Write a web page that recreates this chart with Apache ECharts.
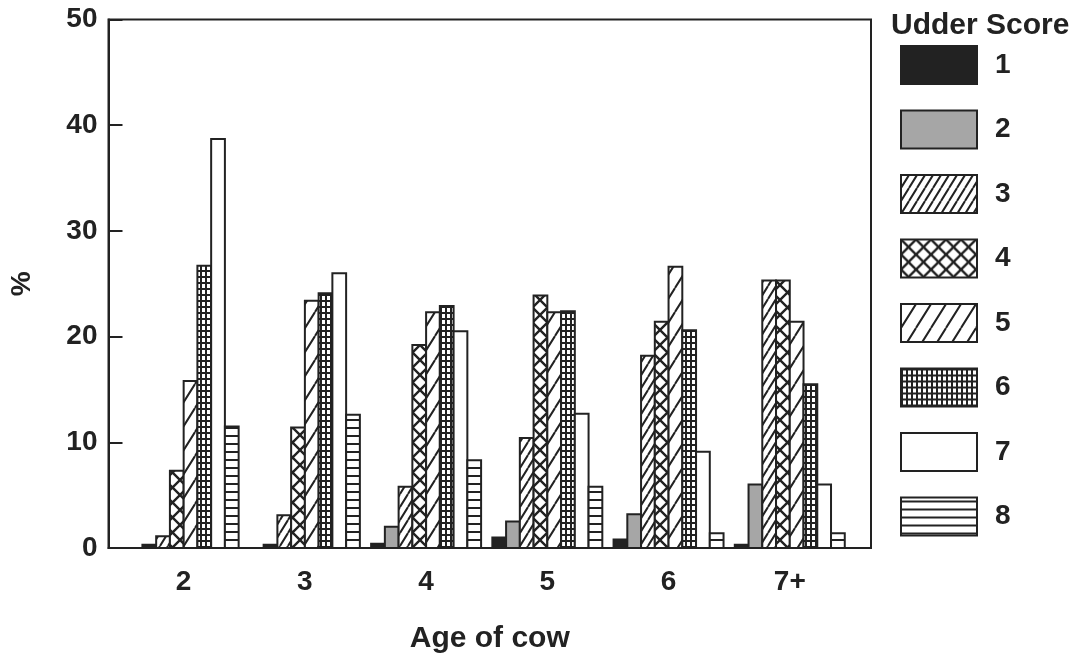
<!DOCTYPE html>
<html>
<head>
<meta charset="utf-8">
<script src="https://cdn.jsdelivr.net/npm/echarts@6/dist/echarts.min.js"></script>
<style>
  html, body { margin: 0; padding: 0; background: #fff; }
  #chart { width: 1071px; height: 659px; }
</style>
</head>
<body>
<div id="chart"></div>
<script>
// age groups and % of cows per udder score
const ages = ['2', '3', '4', '5', '6', '7+']
const scoreNames = ['1', '2', '3', '4', '5', '6', '7', '8']
const score1 = [0.3, 0.3, 0.4, 1.0, 0.8, 0.3]
const score2 = [null, null, 2.0, 2.5, 3.2, 6.0]
const score3 = [1.1, 3.1, 5.8, 10.4, 18.2, 25.3]
const score4 = [7.3, 11.4, 19.2, 23.9, 21.4, 25.3]
const score5 = [15.8, 23.4, 22.3, 22.3, 26.6, 21.4]
const score6 = [26.7, 24.1, 22.9, 22.4, 20.6, 15.5]
const score7 = [38.7, 26.0, 20.5, 12.7, 9.1, 6.0]
const score8 = [11.5, 12.6, 8.3, 5.8, 1.4, 1.4]
const yTicks = [0, 10, 20, 30, 40, 50]

const scores = [score1, score2, score3, score4, score5, score6, score7, score8]
const ink = '#222'
const font = 'Liberation Sans, Arial, sans-serif'
const barUnit = 0.1134

// 填充图案
const makePattern = (w, h, draw) => {
  const c = document.createElement('canvas')
  c.width = w
  c.height = h
  const ctx = c.getContext('2d')
  ctx.fillStyle = '#fff'
  ctx.fillRect(0, 0, w, h)
  ctx.strokeStyle = ink
  ctx.fillStyle = ink
  draw(ctx, w, h)
  return { image: c, repeat: 'repeat' }
}

const slash = (ctx, w, h) => {
  ctx.beginPath()
  for (let dx = -w; dx <= w; dx += w) {
    ctx.moveTo(dx, h)
    ctx.lineTo(dx + w, 0)
  }
  ctx.stroke()
}
const backslash = (ctx, w, h) => {
  ctx.beginPath()
  for (let dx = -w; dx <= w; dx += w) {
    ctx.moveTo(dx, 0)
    ctx.lineTo(dx + w, h)
  }
  ctx.stroke()
}

const fills = [
  ink,
  '#a6a6a6',
  makePattern(8, 13, (ctx, w, h) => { ctx.lineWidth = 2; slash(ctx, w, h) }),
  makePattern(15, 15, (ctx, w, h) => { ctx.lineWidth = 2.4; slash(ctx, w, h); backslash(ctx, w, h) }),
  makePattern(15, 24, (ctx, w, h) => { ctx.lineWidth = 2; slash(ctx, w, h) }),
  makePattern(5, 6, (ctx, w, h) => {
    ctx.fillRect(0, 0, w, h)
    ctx.fillStyle = '#fff'
    ctx.fillRect(2, 2, 3, 4)
  }),
  '#fff',
  makePattern(4, 8, (ctx, w, h) => { ctx.fillRect(0, 3, w, 2) }),
]

// 缺失的分数不占位置，柱子靠右排
const countAfter = (s, c) => {
  let n = 0
  for (let k = s + 1; k < scores.length; k++) {
    if (scores[k][c] != null) n++
  }
  return n
}

const renderBar = (s) => function (params, api) {
  const c = api.value(0)
  const v = api.value(1)
  const slot = 7 - countAfter(s, c - 1)
  const w = api.size([barUnit, 0])[0]
  const base = api.coord([c, 0])
  const top = api.coord([c, v])
  return {
    type: 'rect',
    shape: { x: base[0] - 4 * w + slot * w, y: top[1], width: w, height: base[1] - top[1] },
    style: { fill: fills[s], stroke: ink, lineWidth: 2 },
  }
}

const series = scores.map((arr, s) => {
  const data = []
  arr.forEach((v, i) => {
    if (v != null) data.push([i + 1, v])
  })
  return {
    name: scoreNames[s],
    type: 'custom',
    renderItem: renderBar(s),
    encode: { x: 0, y: 1 },
    itemStyle: { color: fills[s], borderColor: ink, borderWidth: 2 },
    data,
  }
})

const chart = echarts.init(document.getElementById('chart'))
chart.setOption({
  animation: false,
  backgroundColor: '#fff',
  title: {
    text: 'Udder Score',
    left: 886,
    top: 6,
    textStyle: { fontFamily: font, fontSize: 30, fontWeight: 'bold', color: ink },
  },
  legend: {
    orient: 'vertical',
    left: 900,
    top: 45,
    padding: 0,
    itemWidth: 76,
    itemHeight: 38,
    itemGap: 24.5,
    icon: 'rect',
    selectedMode: false,
    itemStyle: { borderColor: ink, borderWidth: 2 },
    textStyle: { fontFamily: font, fontSize: 28, fontWeight: 'bold', color: ink, padding: [0, 0, 0, 13] },
    data: scoreNames,
  },
  grid: {
    left: 108.5,
    right: 200,
    top: 19.5,
    bottom: 107,
    show: true,
    borderColor: ink,
    borderWidth: 2,
  },
  xAxis: {
    type: 'value',
    min: 0.38,
    max: 6.67,
    name: 'Age of cow',
    nameLocation: 'middle',
    nameGap: 76,
    nameTextStyle: { fontFamily: font, fontSize: 30, fontWeight: 'bold', color: ink },
    axisLine: { lineStyle: { color: ink, width: 2 } },
    axisTick: { show: false },
    splitLine: { show: false },
    axisLabel: {
      customValues: [1, 2, 3, 4, 5, 6],
      formatter: (v) => ages[Math.round(v) - 1],
      margin: 20,
      fontFamily: font,
      fontSize: 28,
      fontWeight: 'bold',
      color: ink,
    },
  },
  yAxis: {
    type: 'value',
    min: yTicks[0],
    max: yTicks[yTicks.length - 1],
    interval: 10,
    name: '%',
    nameLocation: 'middle',
    nameRotate: 90,
    nameGap: 72,
    nameTextStyle: { fontFamily: font, fontSize: 28, fontWeight: 'bold', color: ink },
    axisLine: { show: true, lineStyle: { color: ink, width: 2 } },
    axisTick: { show: true, inside: true, length: 14, lineStyle: { color: ink, width: 2 } },
    splitLine: { show: false },
    axisLabel: { margin: 11, fontFamily: font, fontSize: 28, fontWeight: 'bold', color: ink },
  },
  series,
})
</script>
</body>
</html>
